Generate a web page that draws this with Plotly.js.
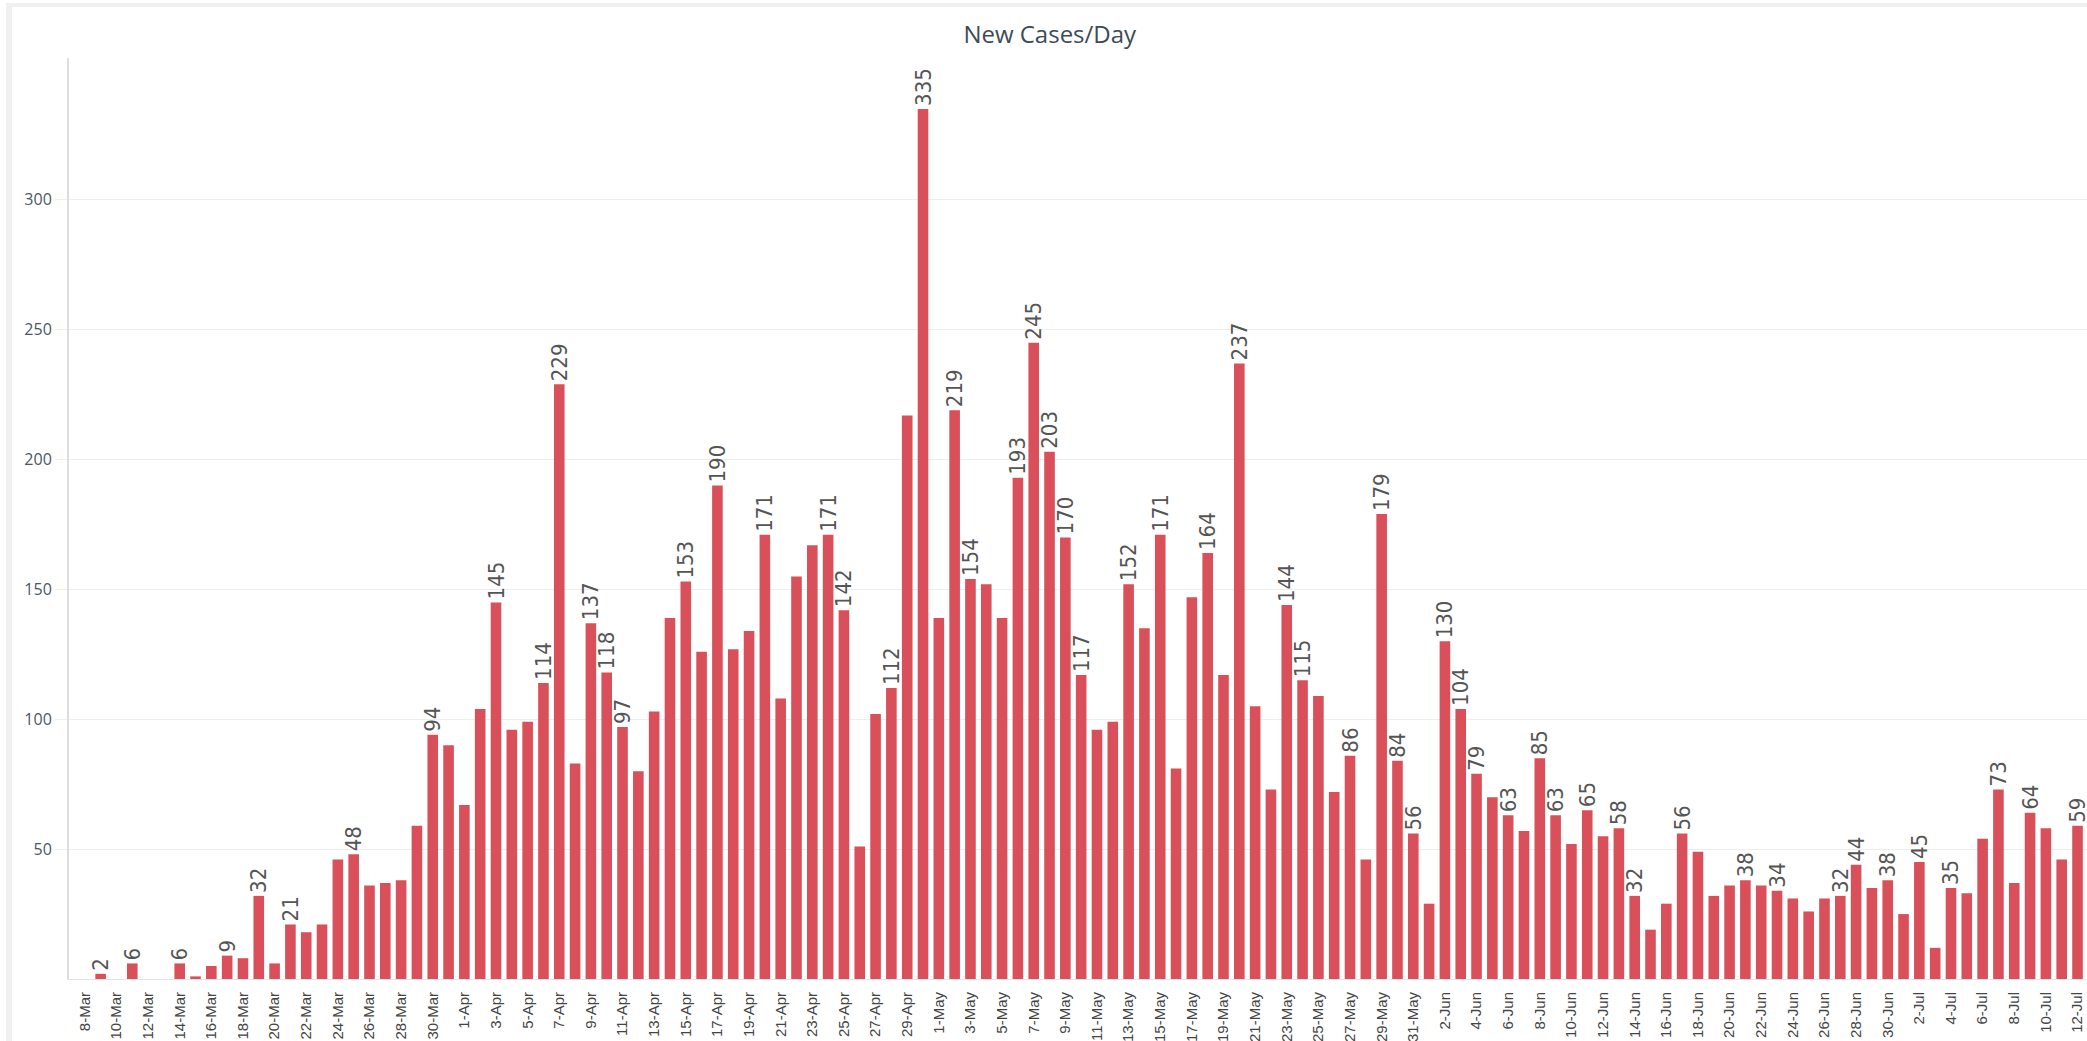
<!DOCTYPE html>
<html>
<head>
<meta charset="utf-8">
<script src="https://cdn.plot.ly/plotly-3.0.1.min.js"></script>
<style>
  html, body { margin: 0; padding: 0; background: #ffffff; overflow: hidden; }
  #chart { position: absolute; left: 0; top: 0; width: 2087px; height: 1041px; }
  #frame { position: absolute; left: 6px; top: 3px; width: 2200px; height: 1200px;
           border-left: 6px solid #f0f0f0; border-top: 4px solid #f0f0f0; pointer-events: none; }
</style>
</head>
<body>
<div id="chart"></div>
<div id="frame"></div>
<script>
// ---- Data ----
const categories = [
  "8-Mar","9-Mar","10-Mar","11-Mar","12-Mar","13-Mar","14-Mar","15-Mar","16-Mar","17-Mar","18-Mar","19-Mar",
  "20-Mar","21-Mar","22-Mar","23-Mar","24-Mar","25-Mar","26-Mar","27-Mar","28-Mar","29-Mar","30-Mar","31-Mar",
  "1-Apr","2-Apr","3-Apr","4-Apr","5-Apr","6-Apr","7-Apr","8-Apr","9-Apr","10-Apr","11-Apr","12-Apr","13-Apr",
  "14-Apr","15-Apr","16-Apr","17-Apr","18-Apr","19-Apr","20-Apr","21-Apr","22-Apr","23-Apr","24-Apr","25-Apr",
  "26-Apr","27-Apr","28-Apr","29-Apr","30-Apr",
  "1-May","2-May","3-May","4-May","5-May","6-May","7-May","8-May","9-May","10-May","11-May","12-May","13-May",
  "14-May","15-May","16-May","17-May","18-May","19-May","20-May","21-May","22-May","23-May","24-May","25-May",
  "26-May","27-May","28-May","29-May","30-May","31-May",
  "1-Jun","2-Jun","3-Jun","4-Jun","5-Jun","6-Jun","7-Jun","8-Jun","9-Jun","10-Jun","11-Jun","12-Jun","13-Jun",
  "14-Jun","15-Jun","16-Jun","17-Jun","18-Jun","19-Jun","20-Jun","21-Jun","22-Jun","23-Jun","24-Jun","25-Jun",
  "26-Jun","27-Jun","28-Jun","29-Jun","30-Jun",
  "1-Jul","2-Jul","3-Jul","4-Jul","5-Jul","6-Jul","7-Jul","8-Jul","9-Jul","10-Jul","11-Jul","12-Jul"
];

const newCases = [
  0,2,0,6,0,0,6,1,5,9,8,32,6,21,18,21,46,48,36,37,38,59,94,90,
  67,104,145,96,99,114,229,83,137,118,97,80,103,139,153,126,190,127,134,171,108,155,167,171,142,51,102,112,217,335,
  139,219,154,152,139,193,245,203,170,117,96,99,152,135,171,81,147,164,117,237,105,73,144,115,109,72,86,46,179,84,56,
  29,130,104,79,70,63,57,85,63,52,65,55,58,32,19,29,56,49,32,36,38,36,34,31,26,31,32,44,35,38,
  25,45,12,35,33,54,73,37,64,58,46,59
];

// Bars that carry a data label in the reference
const labeledDays = [
  "9-Mar","11-Mar","14-Mar","17-Mar","19-Mar","21-Mar","25-Mar","30-Mar",
  "3-Apr","6-Apr","7-Apr","9-Apr","10-Apr","11-Apr","15-Apr","17-Apr","20-Apr","24-Apr","25-Apr","28-Apr","30-Apr",
  "2-May","3-May","6-May","7-May","8-May","9-May","10-May","13-May","15-May","18-May","20-May","23-May","24-May",
  "27-May","29-May","30-May","31-May",
  "2-Jun","3-Jun","4-Jun","6-Jun","8-Jun","9-Jun","11-Jun","13-Jun","14-Jun","17-Jun","21-Jun","23-Jun","27-Jun",
  "28-Jun","30-Jun",
  "2-Jul","4-Jul","7-Jul","9-Jul","12-Jul"
];

// Every other day is shown as an x tick label
const xTickLabels = categories.filter((c, i) => i % 2 === 0);
const yTickValues = [50, 100, 150, 200, 250, 300];

// ---- Chart ----
const labelText = categories.map((c, i) => labeledDays.includes(c) ? String(newCases[i]) : "");

const trace = {
  type: "bar",
  x: categories,
  y: newCases,
  text: labelText,
  textposition: "outside",
  textangle: -90,
  constraintext: "none",
  cliponaxis: false,
  textfont: { family: "'Liberation Sans Narrow', 'DejaVu Sans Condensed', Arial, sans-serif", size: 22, color: "#555555" },
  marker: { color: "#d9505a" },
  hoverinfo: "x+y"
};

const layout = {
  width: 2087,
  height: 1041,
  margin: { l: 69, r: 0, t: 58, b: 62 },
  paper_bgcolor: "#ffffff",
  plot_bgcolor: "#ffffff",
  showlegend: false,
  bargap: 0.33,
  title: {
    text: "New Cases/Day",
    x: 0.503,
    xref: "container",
    xanchor: "center",
    y: 0.967,
    yref: "container",
    yanchor: "middle",
    font: { family: "'Open Sans', 'Noto Sans', sans-serif", size: 24, color: "#3e4a58" }
  },
  xaxis: {
    type: "category",
    range: [-1, 126.6],
    tickmode: "array",
    tickvals: xTickLabels,
    ticktext: xTickLabels,
    tickangle: -90,
    ticks: "",
    ticklabelstandoff: 6,
    tickfont: { family: "'Liberation Sans', Arial, sans-serif", size: 15, color: "#444444" },
    showgrid: false,
    showline: true,
    linecolor: "#e3e3e3",
    linewidth: 1,
    zeroline: false,
    fixedrange: true
  },
  yaxis: {
    range: [0, 354.6],
    tickmode: "array",
    tickvals: yTickValues,
    ticks: "outside",
    ticklen: 12,
    tickcolor: "#eeeeee",
    tickfont: { family: "'Open Sans', 'Noto Sans', sans-serif", size: 16, color: "#4a5866" },
    showgrid: true,
    gridcolor: "#eeeeee",
    gridwidth: 1,
    showline: true,
    linecolor: "#dddddd",
    linewidth: 2,
    zeroline: false,
    fixedrange: true
  }
};

Plotly.newPlot("chart", [trace], layout, { displayModeBar: false, staticPlot: true });
</script>
</body>
</html>
